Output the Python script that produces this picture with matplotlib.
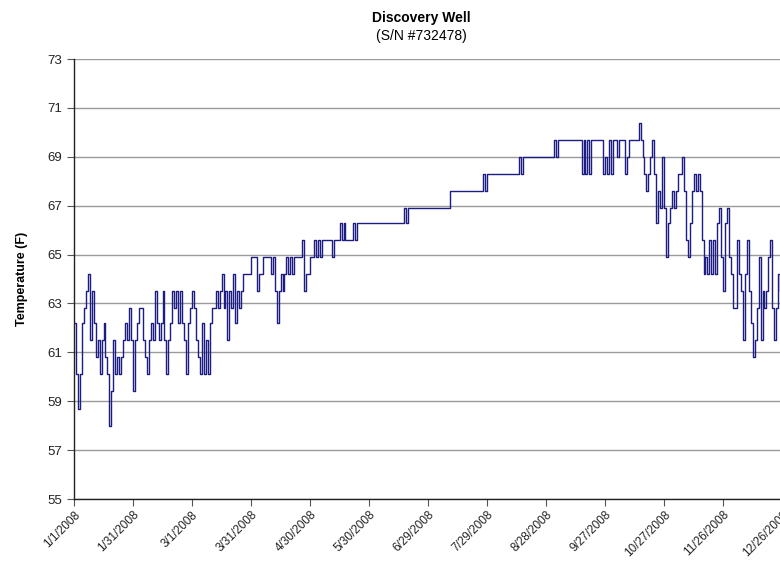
import numpy as np
import pandas as pd
import matplotlib
matplotlib.use('Agg')
import matplotlib.pyplot as plt

plt.rcParams['font.family'] = ['Liberation Sans', 'DejaVu Sans']

# Daily well temperature readings (F), starting 1/1/2008
temps = [
    62.2, 60.1, 58.7, 60.1, 62.2, 62.8, 63.5, 64.2, 61.5, 63.5,
    62.2, 60.8, 61.5, 60.1, 61.5, 62.2, 60.8, 60.1, 58.0, 59.4,
    61.5, 60.1, 60.8, 60.1, 60.8, 61.5, 62.2, 61.5, 62.8, 61.5,
    59.4, 61.5, 62.2, 62.8, 62.8, 61.5, 60.8, 60.1, 61.5, 62.2,
    61.5, 63.5, 62.2, 61.5, 62.2, 63.5, 61.5, 60.1, 61.5, 62.2,
    63.5, 62.8, 63.5, 62.2, 63.5, 62.2, 61.5, 60.1, 62.2, 62.8,
    63.5, 62.8, 61.5, 60.8, 60.1, 62.2, 60.1, 61.5, 60.1, 62.2,
    62.8, 62.8, 63.5, 62.8, 63.5, 64.2, 62.8, 63.5, 61.5, 63.5,
    62.8, 64.2, 62.2, 63.5, 62.8, 63.5, 64.2, 64.2, 64.2, 64.2,
    64.9, 64.9, 64.9, 63.5, 64.2, 64.2, 64.9, 64.9, 64.9, 64.9,
    64.2, 64.9, 63.5, 62.2, 63.5, 64.2, 63.5, 64.2, 64.9, 64.2,
    64.9, 64.2, 64.9, 64.9, 64.9, 64.9, 65.6, 63.5, 64.2, 64.2,
    64.9, 64.9, 65.6, 64.9, 65.6, 64.9, 65.6, 65.6, 65.6, 65.6,
    65.6, 64.9, 65.6, 65.6, 65.6, 66.3, 65.6, 66.3, 65.6, 65.6,
    65.6, 65.6, 66.3, 65.6, 66.3, 66.3, 66.3, 66.3, 66.3, 66.3,
    66.3, 66.3, 66.3, 66.3, 66.3, 66.3, 66.3, 66.3, 66.3, 66.3,
    66.3, 66.3, 66.3, 66.3, 66.3, 66.3, 66.3, 66.3, 66.9, 66.3,
    66.9, 66.9, 66.9, 66.9, 66.9, 66.9, 66.9, 66.9, 66.9, 66.9,
    66.9, 66.9, 66.9, 66.9, 66.9, 66.9, 66.9, 66.9, 66.9, 66.9,
    66.9, 67.6, 67.6, 67.6, 67.6, 67.6, 67.6, 67.6, 67.6, 67.6,
    67.6, 67.6, 67.6, 67.6, 67.6, 67.6, 67.6, 67.6, 68.3, 67.6,
    68.3, 68.3, 68.3, 68.3, 68.3, 68.3, 68.3, 68.3, 68.3, 68.3,
    68.3, 68.3, 68.3, 68.3, 68.3, 68.3, 69.0, 68.3, 69.0, 69.0,
    69.0, 69.0, 69.0, 69.0, 69.0, 69.0, 69.0, 69.0, 69.0, 69.0,
    69.0, 69.0, 69.0, 69.0, 69.7, 69.0, 69.7, 69.7, 69.7, 69.7,
    69.7, 69.7, 69.7, 69.7, 69.7, 69.7, 69.7, 69.7, 68.3, 69.7,
    68.3, 69.7, 68.3, 69.7, 69.7, 69.7, 69.7, 69.7, 69.7, 68.3,
    69.0, 68.3, 69.7, 68.3, 69.7, 69.7, 69.0, 69.7, 69.7, 69.7,
    68.3, 69.0, 69.7, 69.7, 69.7, 69.7, 69.7, 70.4, 69.7, 69.0,
    68.3, 67.6, 68.3, 69.0, 69.7, 68.3, 66.3, 67.6, 66.9, 69.0,
    66.9, 64.9, 66.3, 66.9, 67.6, 66.9, 67.6, 68.3, 68.3, 69.0,
    67.6, 65.6, 64.9, 66.3, 67.6, 68.3, 67.6, 68.3, 67.6, 65.6,
    64.2, 64.9, 64.2, 65.6, 64.2, 65.6, 64.2, 66.3, 66.9, 64.9,
    63.5, 66.3, 66.9, 64.9, 64.2, 62.8, 62.8, 65.6, 64.2, 63.5,
    61.5, 64.2, 65.6, 63.5, 62.2, 60.8, 61.5, 62.8, 64.9, 61.5,
    63.5, 62.8, 63.5, 64.9, 65.6, 62.8, 61.5, 62.8, 64.2, 63.5,
    64.2, 63.5, 64.2, 64.2, 63.5, 64.2,
]
start_date = '2008-01-01'
tick_labels = ['1/1/2008', '1/31/2008', '3/1/2008', '3/31/2008', '4/30/2008',
               '5/30/2008', '6/29/2008', '7/29/2008', '8/28/2008', '9/27/2008',
               '10/27/2008', '11/26/2008', '12/26/2008']
y_ticks = [55, 57, 59, 61, 63, 65, 67, 69, 71, 73]

dates = pd.date_range(start_date, periods=len(temps), freq='D')
tick_dates = pd.to_datetime(tick_labels, format='%m/%d/%Y')

fig = plt.figure(figsize=(7.8, 5.61), dpi=100)
ax = fig.add_axes([74/780, 62/561, 720/780, 440/561])

# logger readings step between levels, so draw as steps
ax.plot(dates, temps, color='#1c1c82', linewidth=1.0, drawstyle='steps-post')

ax.set_ylim(55, 73)
ax.set_xlim(pd.Timestamp('2008-01-01'), pd.Timestamp('2009-01-01'))
ax.set_yticks(y_ticks)
ax.set_xticks(tick_dates)
ax.set_xticklabels(tick_labels, rotation=45, ha='right', rotation_mode='anchor',
                   fontsize=8.5, color='#222222')
ax.tick_params(axis='y', labelsize=9.5, labelcolor='#222222', length=5,
               direction='out', color='#555555')
ax.tick_params(axis='x', length=5, direction='out', color='#555555', pad=2)

ax.grid(axis='y', color='#9a9a9a', linewidth=1.0)
ax.set_axisbelow(True)
for s in ['top', 'right']:
    ax.spines[s].set_visible(False)
for s in ['left', 'bottom']:
    ax.spines[s].set_color('#222222')
    ax.spines[s].set_linewidth(1.0)

ax.set_ylabel('Temperature (F)', fontsize=9, fontweight='bold', labelpad=14)

fig.text(421/780, 1 - 18/561, 'Discovery Well', ha='center', va='center',
         fontsize=10, fontweight='bold')
fig.text(421/780, 1 - 36/561, '(S/N #732478)', ha='center', va='center',
         fontsize=10)

fig.savefig('out.png', dpi=100)
